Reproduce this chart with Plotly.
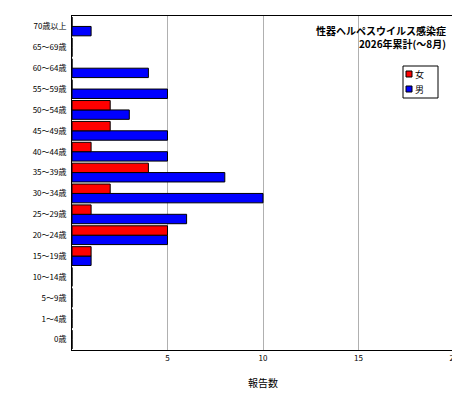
import plotly.graph_objects as go

categories = ["0歳","1〜4歳","5〜9歳","10〜14歳","15〜19歳","20〜24歳","25〜29歳","30〜34歳",
              "35〜39歳","40〜44歳","45〜49歳","50〜54歳","55〜59歳","60〜64歳","65〜69歳","70歳以上"]
female = [0,0,0,0,1,5,1,2,4,1,2,2,0,0,0,0]
male   = [0,0,0,0,1,5,6,10,8,5,5,3,5,4,0,1]
series_names = ["女", "男"]
series_colors = ["#FF0000", "#0000FF"]

W, H = 460, 400
L, R, T, B = 64, 14, 8, 58
pw, ph = W - L - R, H - T - B
def px(x): return (x - L) / pw
def py(y): return 1 - (y - T) / ph

fig = go.Figure()
fig.add_trace(go.Bar(y=categories, x=male, name="男", orientation="h",
                     marker=dict(color="#0000FF", line=dict(color="black", width=1))))
fig.add_trace(go.Bar(y=categories, x=female, name="女", orientation="h",
                     marker=dict(color="#FF0000", line=dict(color="black", width=1))))

shapes = [dict(type="rect", xref="paper", yref="paper", x0=px(395), x1=px(430), y0=py(90), y1=py(58),
               line=dict(color="black", width=1), fillcolor="white")]
annotations = [dict(text="<b>性器ヘルペスウイルス感染症<br>2026年累計(〜8月)</b>", xref="paper", yref="paper",
                    x=0.985, y=0.985, xanchor="right", yanchor="top", showarrow=False,
                    align="right", font=dict(size=10))]
for i, (n, c) in enumerate(zip(series_names, series_colors)):
    yc = 66 + i * 15
    shapes.append(dict(type="rect", xref="paper", yref="paper", x0=px(398), x1=px(404),
                       y0=py(yc + 3), y1=py(yc - 3), line=dict(color="black", width=1), fillcolor=c))
    annotations.append(dict(text=n, xref="paper", yref="paper", x=px(405), y=py(yc),
                            xanchor="left", yanchor="middle", showarrow=False, font=dict(size=9)))

fig.update_layout(
    width=W, height=H, barmode="group", bargap=0.1, bargroupgap=0,
    plot_bgcolor="white", paper_bgcolor="white",
    font=dict(family="Noto Sans CJK JP", size=8, color="black"),
    margin=dict(l=L, r=R, t=T, b=B, autoexpand=False),
    xaxis=dict(range=[0,20], tickvals=[5,10,15,20], showgrid=True, gridcolor="#B0B0B0",
               showline=True, linecolor="black", mirror=True, ticks="", zeroline=False,
               automargin=False, title=dict(text="報告数", font=dict(size=10), standoff=18)),
    yaxis=dict(showline=True, linecolor="black", mirror=True, ticks="", showgrid=False,
               automargin=False, ticklabelstandoff=3),
    shapes=shapes, annotations=annotations, showlegend=False,
)
fig.write_html("out.html")
